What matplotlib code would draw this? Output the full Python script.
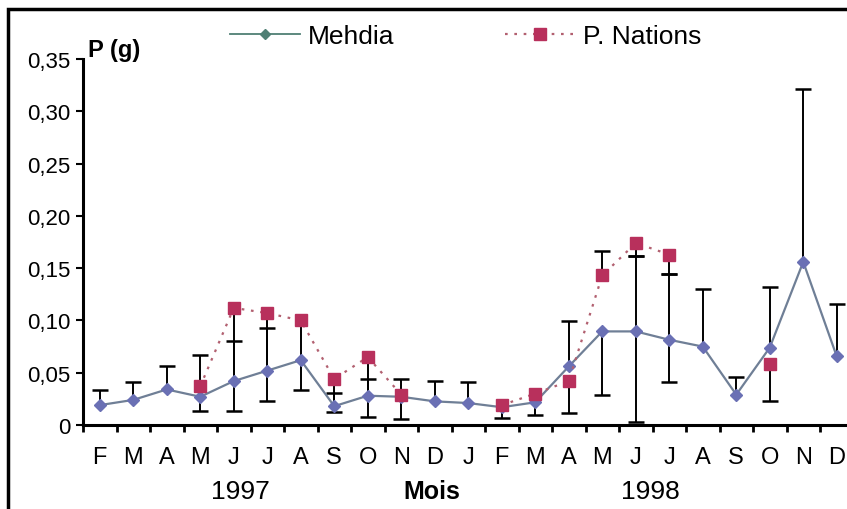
import matplotlib
matplotlib.use("Agg")
import matplotlib.pyplot as plt
import numpy as np
from matplotlib.patches import Rectangle
from matplotlib.lines import Line2D

plt.rcParams['font.family'] = ['Liberation Sans', 'DejaVu Sans']

# Mois (fev 1997 -> dec 1998)
months = ['F', 'M', 'A', 'M', 'J', 'J', 'A', 'S', 'O', 'N', 'D',
          'J', 'F', 'M', 'A', 'M', 'J', 'J', 'A', 'S', 'O', 'N', 'D']
years = ['1997', '1998']
year_pos = [4.2, 16.45]

nan = np.nan
mehdia = [0.019, 0.024, 0.034, 0.027, 0.042, 0.052, 0.062, 0.018, 0.028, 0.027, 0.0226,
          0.021, 0.017, 0.0217, 0.056, 0.0895, 0.0895, 0.0815, 0.075, 0.029, 0.074, 0.156, 0.0656]
mehdia_hi = [0.014, 0.017, 0.022, 0, 0.038, 0.041, 0, 0.013, 0.016, 0, 0.019,
             0.020, 0, 0, 0.043, 0, 0.072, 0.0625, 0.055, 0.017, 0.0575, 0.1655, 0.050]
mehdia_lo = [0, 0, 0, 0.014, 0, 0, 0, 0, 0, 0, 0,
             0, 0, 0.012, 0, 0.0605, 0.087, 0.0405, 0, 0, 0, 0, 0]

nations = [nan, nan, nan, 0.037, 0.112, 0.107, 0.100, 0.044, 0.065, 0.029, nan,
           nan, 0.019, 0.030, 0.042, 0.143, 0.174, 0.163, nan, nan, 0.058, nan, nan]
nations_hi = [0, 0, 0, 0.030, 0, 0, 0, 0, 0, 0.015, 0,
              0, 0, 0, 0, 0.0235, 0, 0, 0, 0, 0, 0, 0]
nations_lo = [0, 0, 0, 0, 0.099, 0.084, 0.067, 0.032, 0.057, 0.0235, 0,
              0, 0.012, 0, 0.0305, 0, 0.012, 0.019, 0, 0, 0.035, 0, 0]

yticks = [0, 0.05, 0.10, 0.15, 0.20, 0.25, 0.30, 0.35]
ytick_labels = ['0', '0,05', '0,10', '0,15', '0,20', '0,25', '0,30', '0,35']

W, H = 847, 510
fig = plt.figure(figsize=(W / 100, H / 100), dpi=100)
ax = fig.add_axes([83 / W, (H - 426) / H, (853.5 - 83) / W, 366 / H])

x = np.arange(len(months))


def draw_err(x, y, lo, hi):
    y = np.asarray(y, float)
    lo = np.asarray(lo, float)
    hi = np.asarray(hi, float)
    for err, sign in ((hi, 1), (lo, -1)):
        m = err > 0
        ax.vlines(x[m], y[m], y[m] + sign * err[m], color='black', lw=1.4, zorder=2)
        ax.plot(x[m], y[m] + sign * err[m], ls='none', marker='_', ms=11,
                mew=1.8, color='black', zorder=2)


draw_err(x, mehdia, mehdia_lo, mehdia_hi)
draw_err(x, nations, nations_lo, nations_hi)

ax.plot(x, mehdia, color='#6f7f96', lw=1.6, marker='D', ms=6.5,
        mfc='#6a70b4', mec='#6a70b4', zorder=3)
ax.plot(x, nations, color='#b26070', lw=1.6, ls=(0, (1.2, 3)), marker='s', ms=9,
        mfc='#b8305c', mec='#b8305c', zorder=4)

ax.set_xlim(-0.5, len(months) - 0.5)
ax.set_ylim(0, 0.35)
ax.set_yticks(yticks)
ax.set_yticklabels(ytick_labels)
ax.set_xticks(x)
ax.set_xticklabels(months)
ax.set_xticks(np.arange(len(months) + 1) - 0.5, minor=True)
ax.tick_params(axis='x', which='major', length=0, pad=15, labelsize=17)
ax.tick_params(axis='x', which='minor', length=5, width=2, direction='out')
ax.tick_params(axis='y', length=5, width=1.5, pad=4, labelsize=16)

for s in ('top', 'right'):
    ax.spines[s].set_visible(False)
for s in ('left', 'bottom'):
    ax.spines[s].set_linewidth(2.2)

trans = ax.get_xaxis_transform()
for yr, p in zip(years, year_pos):
    ax.text(p, -0.18, yr, transform=trans, ha='center', va='center', fontsize=19)
ax.text(9.9, -0.18, 'Mois', transform=trans, ha='center', va='center',
        fontsize=18, fontweight='bold')
fig.text(88 / W, (H - 50) / H, 'P (g)', ha='left', va='center',
         fontsize=17, fontweight='bold')

handles = [
    Line2D([], [], color='#4f7f74', lw=1.3, marker='D', ms=5,
           mfc='#4f7f74', mec='#4f7f74'),
    Line2D([], [], color='#b26070', lw=1.6, ls=(0, (1.2, 3)), marker='s', ms=8,
           mfc='#b8305c', mec='#b8305c'),
]
fig.legend(handles, ['Mehdia', 'P. Nations'], loc='center left',
           bbox_to_anchor=(230 / W, (H - 37) / H), ncol=2, frameon=False,
           fontsize=19, handlelength=2.65, handletextpad=0.3, columnspacing=4.2,
           borderpad=0, borderaxespad=0)

# cadre de la figure
fig.patches.append(Rectangle((8 / W, -0.1), 1.2, (H - 10) / H + 0.1,
                             transform=fig.transFigure, fill=False,
                             edgecolor='black', lw=2.5))

fig.savefig('out.png', dpi=100)
